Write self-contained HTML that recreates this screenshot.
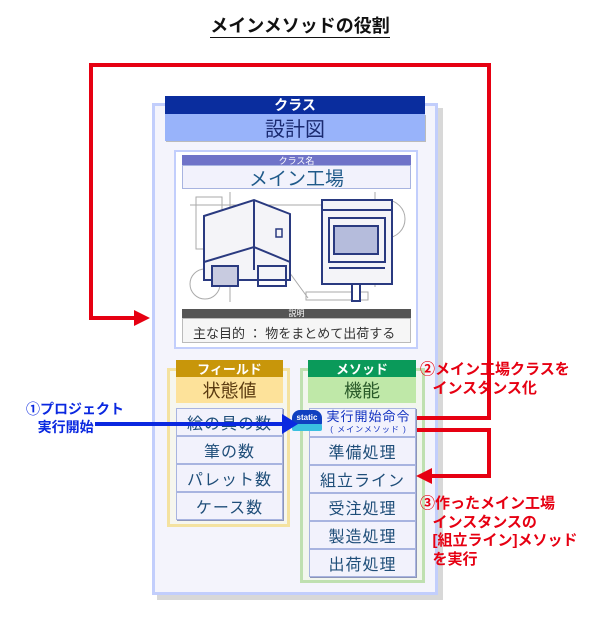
<!DOCTYPE html>
<html><head><meta charset="utf-8"><style>
body{margin:0;width:600px;height:620px;background:#fff;font-family:"Liberation Sans","Noto Sans CJK JP",sans-serif;position:relative;overflow:hidden}
.a{position:absolute;box-sizing:border-box}
.c{display:flex;align-items:center;justify-content:center}
.row{position:absolute;box-sizing:border-box;background:#f2f2fc;border:1px solid #a8b4e0;box-shadow:1px 1px 0 #8d95b8;color:#1f4e79;font-size:16px;display:flex;align-items:center;justify-content:center;letter-spacing:1px}
.red{position:absolute;background:#e60012}
.rt{position:absolute;color:#e60012;font-size:15px;font-weight:bold;line-height:18.5px}
</style></head><body>
<div class="a" style="left:0;top:12px;width:600px;text-align:center;font-size:18px;font-weight:bold;color:#111"><span style="border-bottom:1px solid #111;padding-bottom:1px">メインメソッドの役割</span></div>

<div class="a" style="left:157px;top:108px;width:286px;height:492px;background:#d8d8d8"></div>
<div class="a" style="left:152px;top:103px;width:286px;height:492px;background:#f4f4fc;border:3px solid #c2cefc"></div>
<div class="a c" style="left:165px;top:96px;width:260px;height:18px;background:#0a2d9e;color:#fff;font-size:14px;font-weight:bold">クラス</div>
<div class="a c" style="left:165px;top:114px;width:260px;height:27px;background:#98b3fa;color:#1a2a70;font-size:20px;box-shadow:1px 1px 0 #bbb">設計図</div>

<div class="a" style="left:174px;top:150px;width:244px;height:199px;background:#fff;border:2px solid #c2cefc"></div>
<div class="a c" style="left:182px;top:155px;width:229px;height:10px;background:#6f73c8;color:#fff;font-size:9px">クラス名</div>
<div class="a c" style="left:182px;top:165px;width:229px;height:24px;background:#f2f2fc;border:1px solid #a8b4e0;color:#1f5a8a;font-size:19px">メイン工場</div>
<svg class="a" style="left:180px;top:192px" width="235" height="112" viewBox="0 0 235 112">
<g fill="none" stroke="#aaa" stroke-width="1">
<rect x="16" y="5" width="26" height="52"/><line x1="10" y1="13" x2="200" y2="13"/><line x1="50" y1="0" x2="50" y2="110"/>
<circle cx="84" cy="48" r="22"/><circle cx="25" cy="92" r="15"/><circle cx="206" cy="27" r="19"/>
<line x1="96" y1="62" x2="128" y2="106"/><rect x="126" y="100" width="62" height="8"/><line x1="195" y1="0" x2="195" y2="95"/>
</g>
<g fill="none" stroke="#2a3a80" stroke-width="2">
<polygon points="24,24 74,8 110,22 110,88 24,88" fill="#f4f4f8"/>
<line x1="74" y1="8" x2="74" y2="78"/><polyline points="24,88 24,70 74,55 110,70"/>
<rect x="32" y="74" width="26" height="20" fill="#c8cbe0"/><rect x="78" y="74" width="28" height="20"/>
<rect x="96" y="37" width="6" height="8" stroke-width="1.5"/>
<rect x="142" y="8" width="70" height="84" fill="#f4f4f8"/><line x1="142" y1="18" x2="212" y2="18"/>
<rect x="149" y="26" width="56" height="44"/><rect x="154" y="34" width="44" height="28" fill="#b5bcdc"/>
<line x1="149" y1="76" x2="205" y2="76"/><rect x="172" y="92" width="8" height="17" fill="#fff"/>
</g></svg>
<div class="a c" style="left:182px;top:309px;width:229px;height:9px;background:#555;color:#fff;font-size:8px">説明</div>
<div class="a" style="left:182px;top:318px;width:229px;height:25px;background:#f6f6f6;border:1px solid #bbb;color:#333;font-size:13px;padding:4px 0 0 10px">主な目的 ： 物をまとめて出荷する</div>

<div class="a" style="left:167px;top:368px;width:123px;height:159px;background:#f6f6ee;border:3px solid #f4e2a0"></div>
<div class="a c" style="left:176px;top:360px;width:107px;height:17px;background:#c8960a;color:#fff;font-size:13px;font-weight:bold">フィールド</div>
<div class="a c" style="left:176px;top:377px;width:107px;height:26px;background:#fde29a;color:#5a3a10;font-size:18px">状態値</div>
<div class="row" style="left:176px;top:408px;width:107px;height:28px">絵の具の数</div>
<div class="row" style="left:176px;top:436px;width:107px;height:28px">筆の数</div>
<div class="row" style="left:176px;top:464px;width:107px;height:28px">パレット数</div>
<div class="row" style="left:176px;top:492px;width:107px;height:28px">ケース数</div>

<div class="a" style="left:300px;top:368px;width:125px;height:215px;background:#f2f6ee;border:3px solid #bfe0b0"></div>
<div class="a c" style="left:308px;top:360px;width:108px;height:17px;background:#0a9a5a;color:#fff;font-size:13px;font-weight:bold">メソッド</div>
<div class="a c" style="left:308px;top:377px;width:108px;height:26px;background:#bfe8a8;color:#2a5a2a;font-size:18px">機能</div>
<div class="row" style="left:309px;top:408px;width:107px;height:29px;flex-direction:column;line-height:13px;padding-left:12px"><span style="color:#1030c0;font-size:13px">実行開始命令</span><span style="font-size:8px;color:#1030c0">( メインメソッド )</span></div>
<div class="row" style="left:309px;top:437px;width:107px;height:28px">準備処理</div>
<div class="row" style="left:309px;top:465px;width:107px;height:28px">組立ライン</div>
<div class="row" style="left:309px;top:493px;width:107px;height:28px">受注処理</div>
<div class="row" style="left:309px;top:521px;width:107px;height:28px">製造処理</div>
<div class="row" style="left:309px;top:549px;width:107px;height:28px">出荷処理</div>
<div class="a c" style="left:292px;top:410px;width:30px;height:15px;border-radius:8px 8px 2px 2px;background:#1040c0;color:#fff;font-size:8px;font-weight:bold">static</div>
<div class="a" style="left:292px;top:424px;width:30px;height:7px;background:#3ac0e0;border-radius:2px"></div>

<div class="a" style="left:95px;top:422px;width:190px;height:4px;background:#0a28e0"></div>
<svg class="a" style="left:282px;top:414px" width="16" height="20"><polygon points="0,0 16,10 0,20" fill="#0a28e0"/></svg>
<div class="a" style="left:26px;top:400px;color:#0a28e0;font-size:14px;font-weight:bold;line-height:18px">①プロジェクト<br>&nbsp;&nbsp;&nbsp;実行開始</div>

<div class="red" style="left:89px;top:63px;width:402px;height:4px"></div>
<div class="red" style="left:89px;top:63px;width:4px;height:257px"></div>
<div class="red" style="left:89px;top:316px;width:48px;height:4px"></div>
<svg class="a" style="left:134px;top:310px" width="16" height="16"><polygon points="0,0 16,8 0,16" fill="#e60012"/></svg>
<div class="red" style="left:487px;top:63px;width:4px;height:357px"></div>
<div class="red" style="left:417px;top:416px;width:74px;height:4px"></div>
<div class="red" style="left:417px;top:428px;width:74px;height:4px"></div>
<div class="red" style="left:487px;top:428px;width:4px;height:50px"></div>
<div class="red" style="left:430px;top:474px;width:61px;height:4px"></div>
<svg class="a" style="left:416px;top:468px" width="16" height="16"><polygon points="16,0 0,8 16,16" fill="#e60012"/></svg>
<div class="rt" style="left:420px;top:361px">②メイン工場クラスを<br>&nbsp;&nbsp;&nbsp;インスタンス化</div>
<div class="rt" style="left:420px;top:495px">③作ったメイン工場<br>&nbsp;&nbsp;&nbsp;インスタンスの<br>&nbsp;&nbsp;&nbsp;[組立ライン]メソッド<br>&nbsp;&nbsp;&nbsp;を実行</div>
</body></html>
